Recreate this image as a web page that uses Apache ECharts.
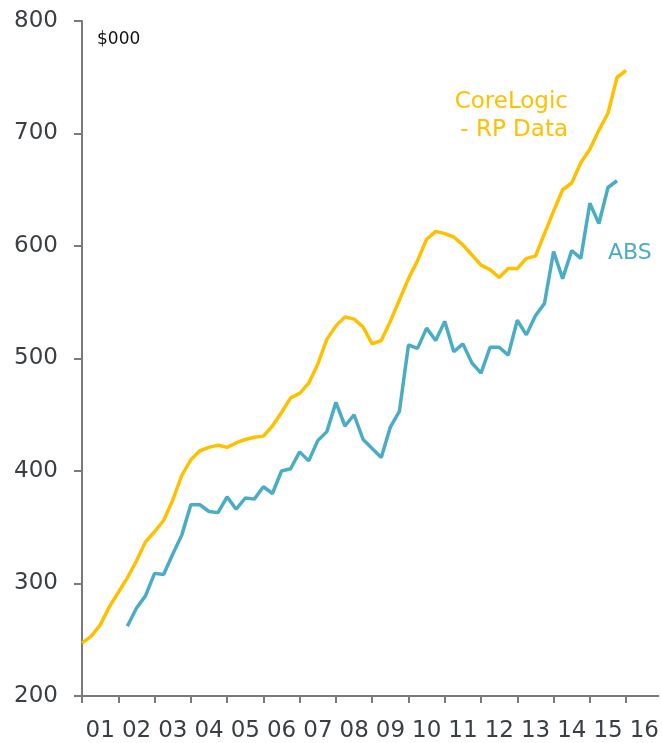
<!DOCTYPE html>
<html>
<head>
<meta charset="utf-8">
<script src="https://cdn.jsdelivr.net/npm/echarts@6/dist/echarts.min.js"></script>
<style>
  html, body { margin: 0; padding: 0; background: #fff; }
  #chart { width: 662px; height: 743px; }
</style>
</head>
<body>
<div id="chart"></div>
<script>
// quarterly, house prices in $000
const coreLogicStart = 2001;
const coreLogic = [
  247, 253, 263, 279, 292, 305, 320, 337, 346, 356, 374, 396,
  410, 418, 421, 423, 421, 425, 428, 430, 431, 440, 452, 465,
  469, 478, 495, 517, 529, 537, 535, 528, 513, 516, 533, 552,
  571, 587, 606, 613, 611, 608, 601, 592, 583, 579, 572, 580,
  580, 589, 591, 611, 631, 650, 656, 674, 686, 703, 718, 750,
  756
];
const absStart = 2002.25;
const absData = [
  262, 278, 289,
  309, 308, 326, 343, 370, 370, 364, 363, 377, 366, 376, 375,
  386, 380, 400, 402, 417, 409, 427, 435, 461, 440, 450, 428,
  420, 412, 439, 453, 512, 509, 527, 516, 533, 506, 513, 496,
  487, 510, 510, 503, 534, 521, 538, 549, 595, 571, 596, 589,
  638, 620, 652, 658
];
const yTicks = [200, 300, 400, 500, 600, 700, 800];

const toPoints = (start, vals) => vals.map((v, i) => [start + i / 4, v]);

const axisColor = '#7a7a7a';
const labelColor = '#3a3f44';
const font = 'DejaVu Sans';

const option = {
  animation: false,
  grid: { left: 82, right: 0, top: 21, bottom: 45, containLabel: false },
  xAxis: {
    type: 'value',
    min: 2001,
    max: 2001 + 580 / 36.5,
    interval: 1,
    axisLine: { lineStyle: { color: axisColor, width: 2 } },
    axisTick: { show: true, inside: false, length: 7, lineStyle: { color: axisColor, width: 2 } },
    splitLine: { show: false },
    axisLabel: {
      showMaxLabel: false,
      color: labelColor,
      fontFamily: font,
      fontSize: 23,
      margin: 24,
      padding: [0, 0, 0, 36.5],
      formatter: v => Number.isInteger(v) ? String(v % 100).padStart(2, '0') : ''
    }
  },
  yAxis: {
    type: 'value',
    min: yTicks[0],
    max: yTicks[yTicks.length - 1],
    interval: 100,
    axisLine: { show: true, lineStyle: { color: axisColor, width: 2 } },
    axisTick: { show: true, inside: false, length: 8, lineStyle: { color: axisColor, width: 2 } },
    splitLine: { show: false },
    axisLabel: { color: labelColor, fontFamily: font, fontSize: 23, margin: 24 }
  },
  series: [
    {
      name: 'CoreLogic - RP Data',
      type: 'line',
      data: toPoints(coreLogicStart, coreLogic),
      showSymbol: false,
      lineStyle: { color: '#FFC000', width: 3.5 },
      z: 2
    },
    {
      name: 'ABS',
      type: 'line',
      data: toPoints(absStart, absData),
      showSymbol: false,
      lineStyle: { color: '#4BACC6', width: 3.5 },
      z: 3
    }
  ],
  graphic: [
    {
      type: 'text', x: 97, y: 31,
      style: { text: '$000', fill: '#111', font: '17px "DejaVu Sans"' }
    },
    {
      type: 'text', x: 568, y: 88,
      style: {
        text: 'CoreLogic\n- RP Data', fill: '#FFC000', align: 'right',
        font: '23px "DejaVu Sans"', lineHeight: 28
      }
    },
    {
      type: 'text', x: 608, y: 242,
      style: { text: 'ABS', fill: '#4BACC6', font: '22px "DejaVu Sans"' }
    }
  ]
};

let chartInstance = null;
const initChart = () => {
  if (chartInstance == null) {
    chartInstance = echarts.init(document.getElementById('chart'));
    option && chartInstance.setOption(option);
  }
};
initChart();
</script>
</body>
</html>
